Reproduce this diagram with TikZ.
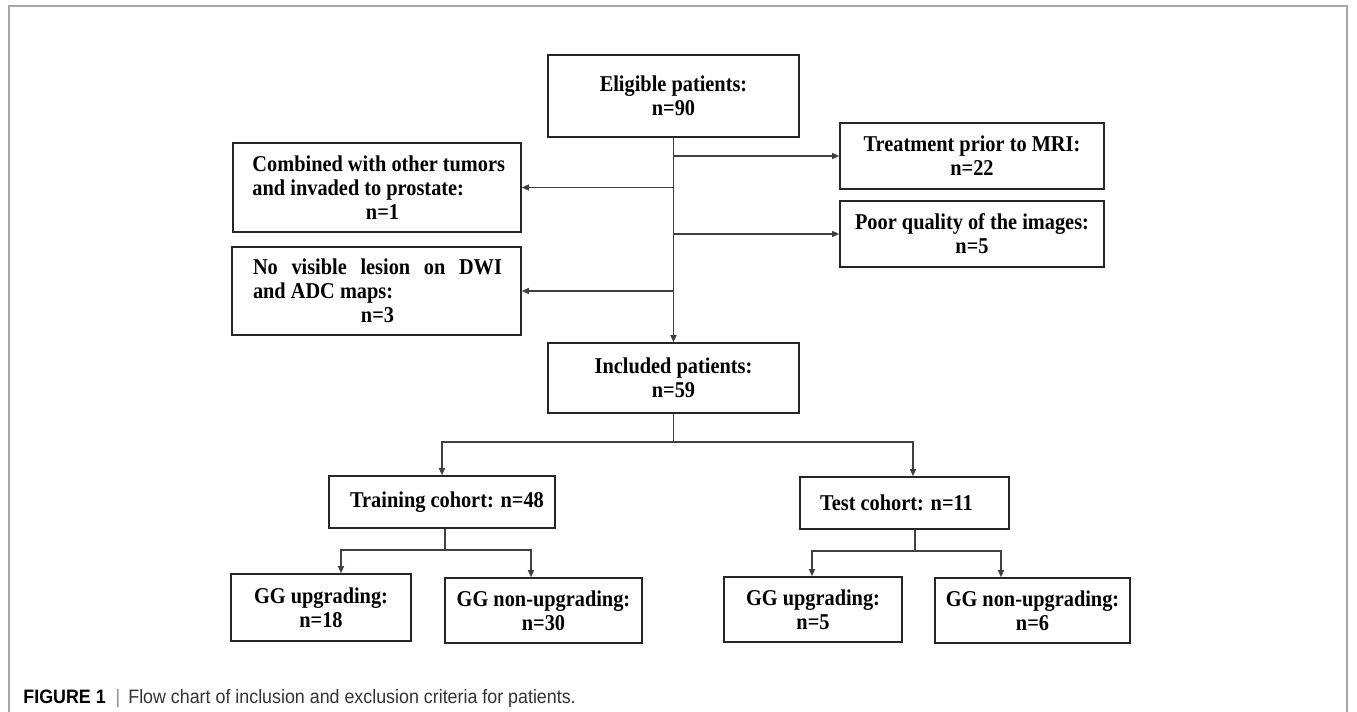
\documentclass[tikz,border=0pt]{standalone}
\usepackage{fontspec}
\setmainfont{Liberation Serif}
\newfontfamily\boxfont{Liberation Serif}[FakeStretch=0.9]
\newfontfamily\capfont{Liberation Sans}[FakeStretch=0.92]
\usetikzlibrary{arrows.meta}
\begin{document}
\begin{tikzpicture}[x=0.5pt,y=-0.5pt,
  box/.style={draw=black!85, line width=0.8pt, inner sep=0pt, align=center,
    font=\boxfont\fontsize{11.3}{12.1}\selectfont\bfseries},
  conn/.style={draw=black!75, line width=0.6pt},
  arr/.style={conn, -{Triangle[length=3.5pt,width=3pt]}},
  frame/.style={draw=black!35, line width=0.75pt}]
\useasboundingbox (0,0) rectangle (1357,712);
\draw[frame] (9,712) -- (9,6) -- (1347,6) -- (1347,712);

\node[box, minimum width=125.5pt, minimum height=41pt] (elig) at (673.5,96) {Eligible patients:\\n=90};
\node[box, minimum width=132pt, minimum height=33pt] (treat) at (972,156) {Treatment prior to MRI:\\n=22};
\node[box, minimum width=144pt, minimum height=44.5pt] (comb) at (377,187.5)
  {\hspace*{5.5pt}\parbox{130pt}{\raggedright Combined with other tumors\\and invaded to prostate:\\\hspace*{\fill}n=1\hspace*{\fill}}};
\node[box, minimum width=132pt, minimum height=33pt] (poor) at (972,234) {Poor quality of the images:\\n=5};
\node[box, minimum width=144.5pt, minimum height=44pt] (novis) at (376.5,291)
  {\hspace*{1pt}\parbox{124.5pt}{\raggedright\makebox[124.5pt][s]{No visible lesion on DWI}\\and ADC maps:\\\hspace*{\fill}n=3\hspace*{\fill}}};
\node[box, minimum width=125.5pt, minimum height=35pt] (incl) at (673.5,378) {Included patients:\\n=59};
\node[box, minimum width=113pt, minimum height=26pt] (train) at (442,502) {\hspace*{5pt}Training cohort: n=48};
\node[box, minimum width=104.5pt, minimum height=26pt] (test) at (904.5,503) {Test cohort: n=11\hspace*{8pt}};
\node[box, minimum width=90pt, minimum height=33.5pt] (gga) at (321,607.5) {GG upgrading:\\n=18};
\node[box, minimum width=98.5pt, minimum height=32.5pt] (ggb) at (543.5,610.5) {GG non-upgrading:\\n=30};
\node[box, minimum width=89pt, minimum height=32.5pt] (ggc) at (813,609.5) {GG upgrading:\\n=5};
\node[box, minimum width=97.5pt, minimum height=32.5pt] (ggd) at (1032.5,610.5) {GG non-upgrading:\\n=6};

\node[anchor=base west, inner sep=0pt, font=\capfont\fontsize{9.7}{11}\selectfont] (cap) at (23,703)
  {\textbf{FIGURE 1}\hspace{5pt}\textcolor{black!45}{|}\hspace{4pt}\textcolor{black!80}{Flow chart of inclusion and exclusion criteria for patients.}};

% trunk and exclusions
\draw[arr] (elig.south) -- (incl.north);
\draw[arr] (elig.south |- treat.west) -- (treat.west);
\draw[arr] (elig.south |- comb.east) -- (comb.east);
\draw[arr] (elig.south |- poor.west) -- (poor.west);
\draw[arr] (elig.south |- novis.east) -- (novis.east);

% split into cohorts
\coordinate (jy) at (0,442);
\coordinate (tj) at (913,442);
\draw[conn] (incl.south) -- (incl.south |- jy);
\draw[arr] (incl.south |- jy) -| (train.north);
\draw[arr] (incl.south |- jy) -- (tj) -- (tj |- test.north);

% training split
\coordinate (ta) at (341,550);
\coordinate (tb) at (531,550);
\coordinate (tt) at (445,550);
\draw[conn] (tt |- train.south) -- (tt);
\draw[arr] (tt) -- (ta) -- (ta |- gga.north);
\draw[arr] (tt) -- (tb) -- (tb |- ggb.north);

% test split
\coordinate (sc) at (812,551);
\coordinate (sd) at (1001,551);
\coordinate (st) at (915,551);
\draw[conn] (st |- test.south) -- (st);
\draw[arr] (st) -- (sc) -- (sc |- ggc.north);
\draw[arr] (st) -- (sd) -- (sd |- ggd.north);
\end{tikzpicture}
\end{document}
